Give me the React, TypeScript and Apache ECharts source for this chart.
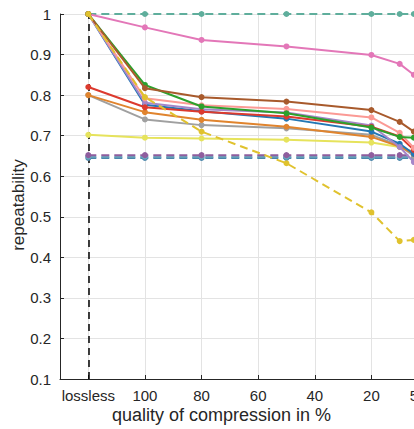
import React, { useEffect, useRef } from "react";
import * as echarts from "echarts";

const qualities = [120, 100, 80, 50, 20, 10, 5];
const tickValues = [120, 100, 80, 60, 40, 20, 5];
const yTicks = [0.1, 0.2, 0.3, 0.4, 0.5, 0.6, 0.7, 0.8, 0.9, 1];

const tealDashed = [1, 1, 1, 1, 1, 1, 1];
const pink = [1, 0.967, 0.936, 0.92, 0.899, 0.877, 0.85];
const brown = [1, 0.817, 0.795, 0.784, 0.763, 0.734, 0.71];
const green = [1, 0.825, 0.772, 0.755, 0.72, 0.697, 0.695];
const salmon = [1, 0.792, 0.775, 0.766, 0.745, 0.707, 0.67];
const red = [0.82, 0.77, 0.759, 0.747, 0.722, 0.698, 0.665];
const purple = [1, 0.781, 0.765, 0.757, 0.725, 0.672, 0.635];
const blue = [1, 0.776, 0.76, 0.742, 0.71, 0.68, 0.655];
const orange = [0.8, 0.758, 0.739, 0.722, 0.697, 0.673, 0.655];
const gray = [0.8, 0.74, 0.726, 0.718, 0.702, 0.675, 0.65];
const lightYellow = [0.702, 0.695, 0.693, 0.69, 0.683, 0.672, 0.66];
const yellowDashed = [1, 0.795, 0.71, 0.632, 0.511, 0.44, 0.443];
const blueDashed = [0.645, 0.645, 0.645, 0.645, 0.645, 0.645, 0.645];
const tealBlueDashed = [0.648, 0.648, 0.648, 0.648, 0.648, 0.648, 0.648];
const purpleDashed = [0.652, 0.652, 0.652, 0.652, 0.652, 0.652, 0.652];

const seriesDefs: { name: string; data: number[]; color: string; dashed: boolean }[] = [
  { name: "teal", data: tealDashed, color: "#5fae9c", dashed: true },
  { name: "blueDashed", data: blueDashed, color: "#4a86ab", dashed: true },
  { name: "tealBlueDashed", data: tealBlueDashed, color: "#6aa7bd", dashed: true },
  { name: "purpleDashed", data: purpleDashed, color: "#8f5e9e", dashed: true },
  { name: "pink", data: pink, color: "#e377b8", dashed: false },
  { name: "lightYellow", data: lightYellow, color: "#e6e35c", dashed: false },
  { name: "gray", data: gray, color: "#a0a0a0", dashed: false },
  { name: "orange", data: orange, color: "#e0842e", dashed: false },
  { name: "blue", data: blue, color: "#2377b4", dashed: false },
  { name: "purple", data: purple, color: "#a586c8", dashed: false },
  { name: "red", data: red, color: "#dc3a2e", dashed: false },
  { name: "salmon", data: salmon, color: "#fb9a95", dashed: false },
  { name: "green", data: green, color: "#2ca02c", dashed: false },
  { name: "brown", data: brown, color: "#a85a2c", dashed: false },
  { name: "yellowDashed", data: yellowDashed, color: "#e0c22e", dashed: true },
];

const textColor = "#262626";
const font = "Liberation Sans";

export default function App() {
  const ref = useRef<HTMLDivElement>(null);
  useEffect(() => {
    if (!ref.current) return;
    const chart = echarts.init(ref.current, undefined, { renderer: "svg" });
    const series: any[] = seriesDefs.map((s, i) => ({
      type: "line",
      name: s.name,
      data: qualities.map((q, j) => [q, s.data[j]]),
      symbol: "circle",
      symbolSize: 6,
      showSymbol: true,
      lineStyle: { color: s.color, width: 2, type: s.dashed ? [8, 5] : "solid" },
      itemStyle: { color: s.color },
      z: 3 + i,
      ...(i === 0
        ? {
            markLine: {
              silent: true,
              symbol: "none",
              label: { show: false },
              lineStyle: { color: "#000", width: 1.5, type: [7, 5] },
              data: [{ xAxis: 120 }],
              z: 1,
            },
          }
        : {}),
    }));
    chart.setOption({
      animation: false,
      grid: { left: 60, top: 14, width: 368, height: 365, containLabel: false, outerBoundsMode: "none" },
      xAxis: {
        type: "value",
        inverse: true,
        min: 0,
        max: 130,
        axisLine: { show: true, onZero: false, lineStyle: { color: textColor, width: 1 } },
        axisTick: { show: true, inside: true, length: 4, customValues: tickValues, lineStyle: { color: textColor } },
        axisLabel: {
          customValues: tickValues,
          margin: 9,
          fontSize: 15,
          fontFamily: font,
          color: textColor,
          hideOverlap: false,
          formatter: (v: number) => (v === 120 ? "lossless" : String(v)),
        },
        splitLine: { show: true, lineStyle: { color: "#e3e3e3", width: 1 } },
      },
      yAxis: {
        type: "value",
        min: 0.1,
        max: 1,
        interval: 0.1,
        axisLine: { show: true, onZero: false, lineStyle: { color: textColor, width: 1 } },
        axisTick: { show: true, inside: true, length: 4, lineStyle: { color: textColor } },
        axisLabel: {
          margin: 9,
          fontSize: 15,
          fontFamily: font,
          color: textColor,
          formatter: (v: number) => {
            const r = Math.round(v * 10) / 10;
            return yTicks.indexOf(r) >= 0 ? (r === 1 ? "1" : r.toFixed(1)) : "";
          },
        },
        splitLine: { show: true, lineStyle: { color: "#e3e3e3", width: 1 } },
      },
      graphic: [
        {
          type: "text",
          left: 112,
          top: 406,
          style: {
            text: "quality of compression in %",
            fontSize: 18,
            fontFamily: font,
            fill: textColor,
          },
        },
        {
          type: "text",
          x: 18,
          y: 205,
          rotation: Math.PI / 2,
          style: {
            text: "repeatability",
            fontSize: 17,
            fontFamily: font,
            fill: textColor,
            align: "center",
            verticalAlign: "middle",
          },
        },
      ],
      series,
    });
    return () => chart.dispose();
  }, []);
  return <div ref={ref} style={{ width: 414, height: 429, position: "absolute", left: 0, top: 0 }} />;
}
